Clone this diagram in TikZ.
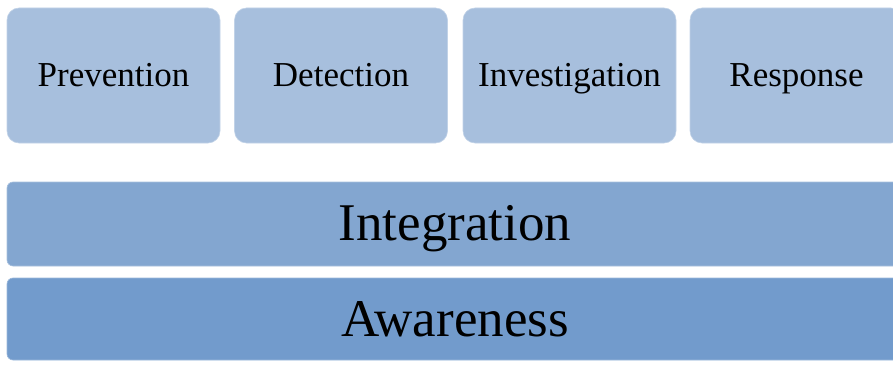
\documentclass[tikz,border=0pt]{standalone}
\usepackage{fontspec}
\setmainfont{Liberation Serif}
\definecolor{topfill}{HTML}{A7BFDD}
\definecolor{intfill}{HTML}{83A6D0}
\definecolor{awafill}{HTML}{729BCC}
\tikzset{
  topbox/.style={fill=topfill, draw=topfill!70!white, line width=0.6pt,
    rounded corners=12pt, minimum width=213pt, minimum height=135pt,
    inner sep=0pt, text height=23pt, text depth=0pt,
    font=\fontsize{35}{40}\selectfont},
  barbox/.style={draw=#1!70!white, fill=#1, line width=0.6pt,
    rounded corners=6pt, minimum width=896pt, inner sep=0pt,
    text depth=0pt, font=\fontsize{53}{60}\selectfont},
}
\begin{document}
\begin{tikzpicture}[x=1pt,y=1pt]
\useasboundingbox (0,0) rectangle (893,389);
\clip (0,0) rectangle (893,389);
\node[topbox] (prev) at (113.5,313.5) {Prevention};
\node[topbox] (det) at (341,313.5) {Detection};
\node[topbox] (inv) at (569.5,313.5) {Investigation};
\node[topbox] (resp) at (796.5,313.5) {Response};
\node[barbox=intfill, minimum height=84pt, text height=32pt] (integ) at (455,165) {Integration};
\node[barbox=awafill, minimum height=82pt, text height=34pt] (aware) at (455,70) {Awareness};
\end{tikzpicture}
\end{document}
